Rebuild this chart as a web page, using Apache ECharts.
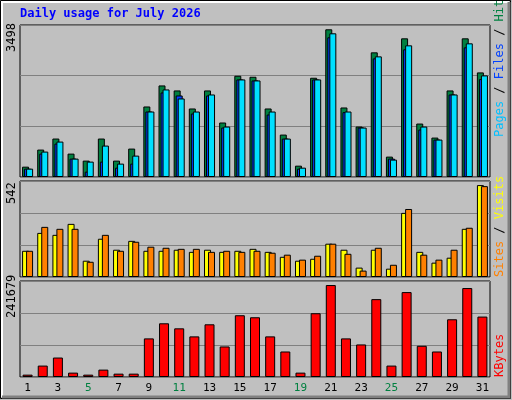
<!DOCTYPE html><html><head><meta charset="utf-8">
<script src="https://cdn.jsdelivr.net/npm/echarts@6/dist/echarts.min.js"></script>
<style>html,body{margin:0;padding:0;background:#c0c0c0}#c{width:512px;height:400px}</style></head><body><div id="c"></div><script>
const days=['1','2','3','4','5','6','7','8','9','10','11','12','13','14','15','16','17','18','19','20','21','22','23','24','25','26','27','28','29','30','31'];
const weekend=['4','5','11','12','18','19','25','26'];
const hits=[238,631,885,538,377,885,377,654,1623,2107,1992,1577,1992,1254,2330,2307,1577,976,261,2284,3399,1600,1161,2869,469,3191,1230,907,1992,3191,2407];
const pages=[192,538,769,423,123,354,215,308,1507,1945,1876,1461,1876,1138,2245,2222,1438,884,192,2245,3215,1492,1138,2730,423,2938,1092,861,1899,2984,2253];
const files=[192,585,815,423,354,723,308,492,1507,2015,1807,1507,1899,1161,2245,2222,1507,884,215,2245,3307,1507,1138,2776,400,3030,1161,861,1899,3076,2338];
const visits=[148,249,238,300,92,216,154,204,148,148,154,142,154,142,148,159,142,114,92,103,188,154,53,154,47,362,142,81,109,272,519];
const sites=[148,283,272,272,86,238,148,199,171,165,159,159,142,148,142,148,137,126,98,120,188,131,36,165,69,384,126,98,154,278,513];
const kbytes=[5915,28730,49010,10985,5915,18590,8450,8450,97175,135200,122525,102245,132665,76895,155480,150410,102245,64220,10985,160550,231530,97175,81965,196040,28730,213785,78585,64220,145340,223925,152100];
const maxes=[3498,542,241679];
const ch=echarts.init(document.getElementById('c'));
const grids=[{top:25,height:152},{top:181,height:96},{top:281,height:96}].map(g=>({left:20,right:22,top:g.top,height:g.height,show:true,backgroundColor:'#c0c0c0',borderColor:'#000',borderWidth:1}));
const xAxis=grids.map((g,i)=>({gridIndex:i,type:'category',data:days,axisLine:{show:false},axisTick:{show:false},
 axisLabel:{show:i===2,fontFamily:'DejaVu Sans Mono',fontSize:11,margin:6,color:v=>weekend.includes(v)?'#008040':'#000'}}));
const yAxis=maxes.map((m,i)=>({gridIndex:i,type:'value',min:0,max:m,interval:m/3,axisLabel:{show:false},axisLine:{show:false},axisTick:{show:false},splitLine:{lineStyle:{color:'#808080',width:1}}}));
const bs={borderColor:'#000',borderWidth:1};
const series=[
 {type:'bar',xAxisIndex:0,yAxisIndex:0,data:hits,barWidth:7,barGap:'-71%',itemStyle:{color:'#008040',...bs}},
 {type:'bar',xAxisIndex:0,yAxisIndex:0,data:pages,barWidth:7,barGap:'-71%',itemStyle:{color:'#0040ff',...bs}},
 {type:'bar',xAxisIndex:0,yAxisIndex:0,data:files,barWidth:7,barGap:'-71%',itemStyle:{color:'#00e0ff',...bs}},
 {type:'bar',xAxisIndex:1,yAxisIndex:1,data:visits,barWidth:7,barGap:'-43%',itemStyle:{color:'#ffff00',...bs}},
 {type:'bar',xAxisIndex:1,yAxisIndex:1,data:sites,barWidth:7,barGap:'-43%',itemStyle:{color:'#ff8000',...bs}},
 {type:'bar',xAxisIndex:2,yAxisIndex:2,data:kbytes,barWidth:10,itemStyle:{color:'#ff0000',...bs}}
];
const ff='DejaVu Sans Mono';
const rot=Math.PI/2;
const graphic=[
 {type:'rect',shape:{x:0.5,y:0.5,width:510,height:398},style:{fill:null,stroke:'#000',lineWidth:1}},
 {type:'polyline',shape:{points:[[2,397],[2,2],[509,2]]},style:{stroke:'#fff',lineWidth:2,fill:null}},
 {type:'polyline',shape:{points:[[509,2],[509,397],[2,397]]},style:{stroke:'#808080',lineWidth:3,fill:null}},
 {type:'text',left:20,top:8,style:{text:'Daily usage for July 2026',fill:'#0000ff',font:'bold 12px "DejaVu Sans Mono"'}},
 {type:'text',x:6,y:52,rotation:rot,style:{text:'3498',fill:'#000',font:'12px "DejaVu Sans Mono"'}},
 {type:'text',x:6,y:204,rotation:rot,style:{text:'542',fill:'#000',font:'12px "DejaVu Sans Mono"'}},
 {type:'text',x:6,y:318,rotation:rot,style:{text:'241679',fill:'#000',font:'12px "DejaVu Sans Mono"'}},
 {type:'text',x:494,y:137,rotation:rot,style:{text:'{a|Pages} {b|/} {c|Files} {b|/} {d|Hits}',font:'12px "DejaVu Sans Mono"',rich:{a:{fill:'#00c0ff',font:'12px "DejaVu Sans Mono"'},b:{fill:'#000',font:'12px "DejaVu Sans Mono"'},c:{fill:'#0040ff',font:'12px "DejaVu Sans Mono"'},d:{fill:'#008040',font:'12px "DejaVu Sans Mono"'}}}},
 {type:'text',x:494,y:277,rotation:rot,style:{text:'{a|Sites} {b|/} {c|Visits}',font:'12px "DejaVu Sans Mono"',rich:{a:{fill:'#ff8000',font:'12px "DejaVu Sans Mono"'},b:{fill:'#000',font:'12px "DejaVu Sans Mono"'},c:{fill:'#ffff00',font:'12px "DejaVu Sans Mono"'}}}},
 {type:'text',x:494,y:377,rotation:rot,style:{text:'KBytes',fill:'#ff0000',font:'12px "DejaVu Sans Mono"'}}
];
ch.setOption({animation:false,backgroundColor:'#c0c0c0',grid:grids,xAxis,yAxis,series,graphic});
</script></body></html>
